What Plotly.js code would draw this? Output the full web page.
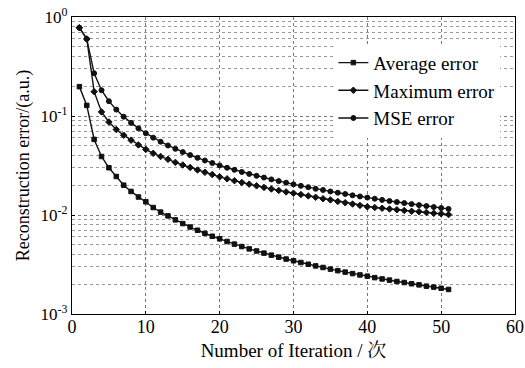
<!DOCTYPE html>
<html>
<head>
<meta charset="utf-8">
<script src="https://cdn.plot.ly/plotly-3.0.1.min.js"></script>
<style>html,body{margin:0;padding:0;background:#fff;}#chart{width:525px;height:368px;}</style>
</head>
<body>
<div id="chart"></div>
<script>
// Iteration numbers
var iterations = [1,2,3,4,5,6,7,8,9,10,11,12,13,14,15,16,17,18,19,20,21,22,23,24,25,26,27,28,29,30,31,32,33,34,35,36,37,38,39,40,41,42,43,44,45,46,47,48,49,50,51];

// Series values
var averageError = [0.198,0.128,0.058,0.039,0.030,0.0245,0.0200,0.0173,0.0152,0.0136,0.0119,0.0107,0.0098,0.00893,0.00819,0.00756,0.00701,0.00652,0.00610,0.00575,0.00540,0.00508,0.00480,0.00455,0.00433,0.00412,0.00393,0.00375,0.00359,0.00345,0.00331,0.00318,0.00306,0.00295,0.00284,0.00274,0.00265,0.00256,0.00248,0.00241,0.00233,0.00226,0.00220,0.00213,0.00208,0.00202,0.00197,0.00191,0.00187,0.00182,0.00177];

var maximumError = [0.78,0.60,0.176,0.110,0.087,0.073,0.064,0.057,0.051,0.046,0.042,0.039,0.0365,0.034,0.032,0.0302,0.0285,0.0270,0.0256,0.0243,0.0232,0.0222,0.0213,0.0205,0.0197,0.0190,0.0183,0.0177,0.0171,0.0166,0.0161,0.0156,0.0151,0.0146,0.0142,0.0137,0.0133,0.0129,0.0125,0.0121,0.0119,0.0117,0.0115,0.0113,0.0111,0.0109,0.0108,0.0106,0.0104,0.0103,0.0101];

var mseError = [0.78,0.60,0.27,0.182,0.141,0.116,0.0984,0.0852,0.0750,0.0670,0.0604,0.0550,0.0504,0.0466,0.0432,0.0403,0.0378,0.0355,0.0335,0.0317,0.0300,0.0286,0.0272,0.0260,0.0249,0.0239,0.0229,0.0220,0.0212,0.0204,0.0197,0.0191,0.0184,0.0179,0.0173,0.0168,0.0163,0.0158,0.0154,0.0150,0.01459,0.01421,0.01386,0.01352,0.01319,0.01288,0.01259,0.01231,0.01203,0.01177,0.01152];

var seriesNames = ['Average error','Maximum error','MSE error'];
var yTickVals = [0.001,0.01,0.1,1];
var yTickText = ['10<sup>-3</sup>','10<sup>-2</sup>','10<sup>-1</sup>','10<sup>0</sup>'];
var yMinorVals = [];
[0.001,0.01,0.1].forEach(function(d){ for(var k=2;k<=9;k++){ yMinorVals.push(d*k); } });

var font = '"Liberation Serif", "DejaVu Serif", "Noto Serif CJK SC", "Noto Sans CJK SC", serif';

function mk(name, ys, symbol, size){
  return {
    x: iterations, y: ys, name: name, type: 'scatter', mode: 'lines+markers',
    line: {color: '#111', width: 1.4},
    marker: {symbol: symbol, size: size, color: '#111', line: {color: '#111', width: 1}}
  };
}

var data = [
  mk(seriesNames[0], averageError, 'square', 4.5),
  mk(seriesNames[1], maximumError, 'diamond', 5),
  mk(seriesNames[2], mseError, 'circle', 5)
];

var layout = {
  width: 525, height: 368,
  margin: {l: 72, r: 10, t: 17, b: 54},
  paper_bgcolor: '#fff', plot_bgcolor: '#fff',
  font: {family: font, size: 16, color: '#000'},
  showlegend: true,
  legend: {
    x: 0.59, y: 0.91, xanchor: 'left', yanchor: 'top',
    bgcolor: 'rgba(255,255,255,1)', borderwidth: 0,
    font: {family: font, size: 19, color: '#000'},
    tracegroupgap: 0, itemwidth: 30
  },
  xaxis: {
    range: [0, 60], tickmode: 'linear', tick0: 0, dtick: 10,
    showline: true, linecolor: '#000', linewidth: 1.2, mirror: true,
    ticks: 'inside', ticklen: 3, tickcolor: '#000',
    showgrid: true, gridcolor: '#777', griddash: 'dot', gridwidth: 1,
    zeroline: false,
    ticklabelstandoff: -4,
    tickfont: {family: font, size: 18, color: '#000'},
    title: {text: 'Number of Iteration / 次', font: {family: font, size: 19, color: '#000'}, standoff: 8}
  },
  yaxis: {
    type: 'log', range: [-3, 0],
    tickmode: 'array', tickvals: yTickVals, ticktext: yTickText,
    showline: true, linecolor: '#000', linewidth: 1.2, mirror: true,
    ticks: 'inside', ticklen: 3, tickcolor: '#000',
    showgrid: true, gridcolor: '#777', griddash: 'dot', gridwidth: 1,
    minor: {tickmode: 'array', tickvals: yMinorVals, showgrid: true, gridcolor: '#999', griddash: 'dot', gridwidth: 1, ticks: ''},
    zeroline: false,
    tickfont: {family: font, size: 17, color: '#000'},
    title: {text: 'Reconstruction error/(a.u.)', font: {family: font, size: 18, color: '#000'}, standoff: 6}
  }
};

Plotly.newPlot('chart', data, layout, {displayModeBar: false, staticPlot: true});
</script>
</body>
</html>
